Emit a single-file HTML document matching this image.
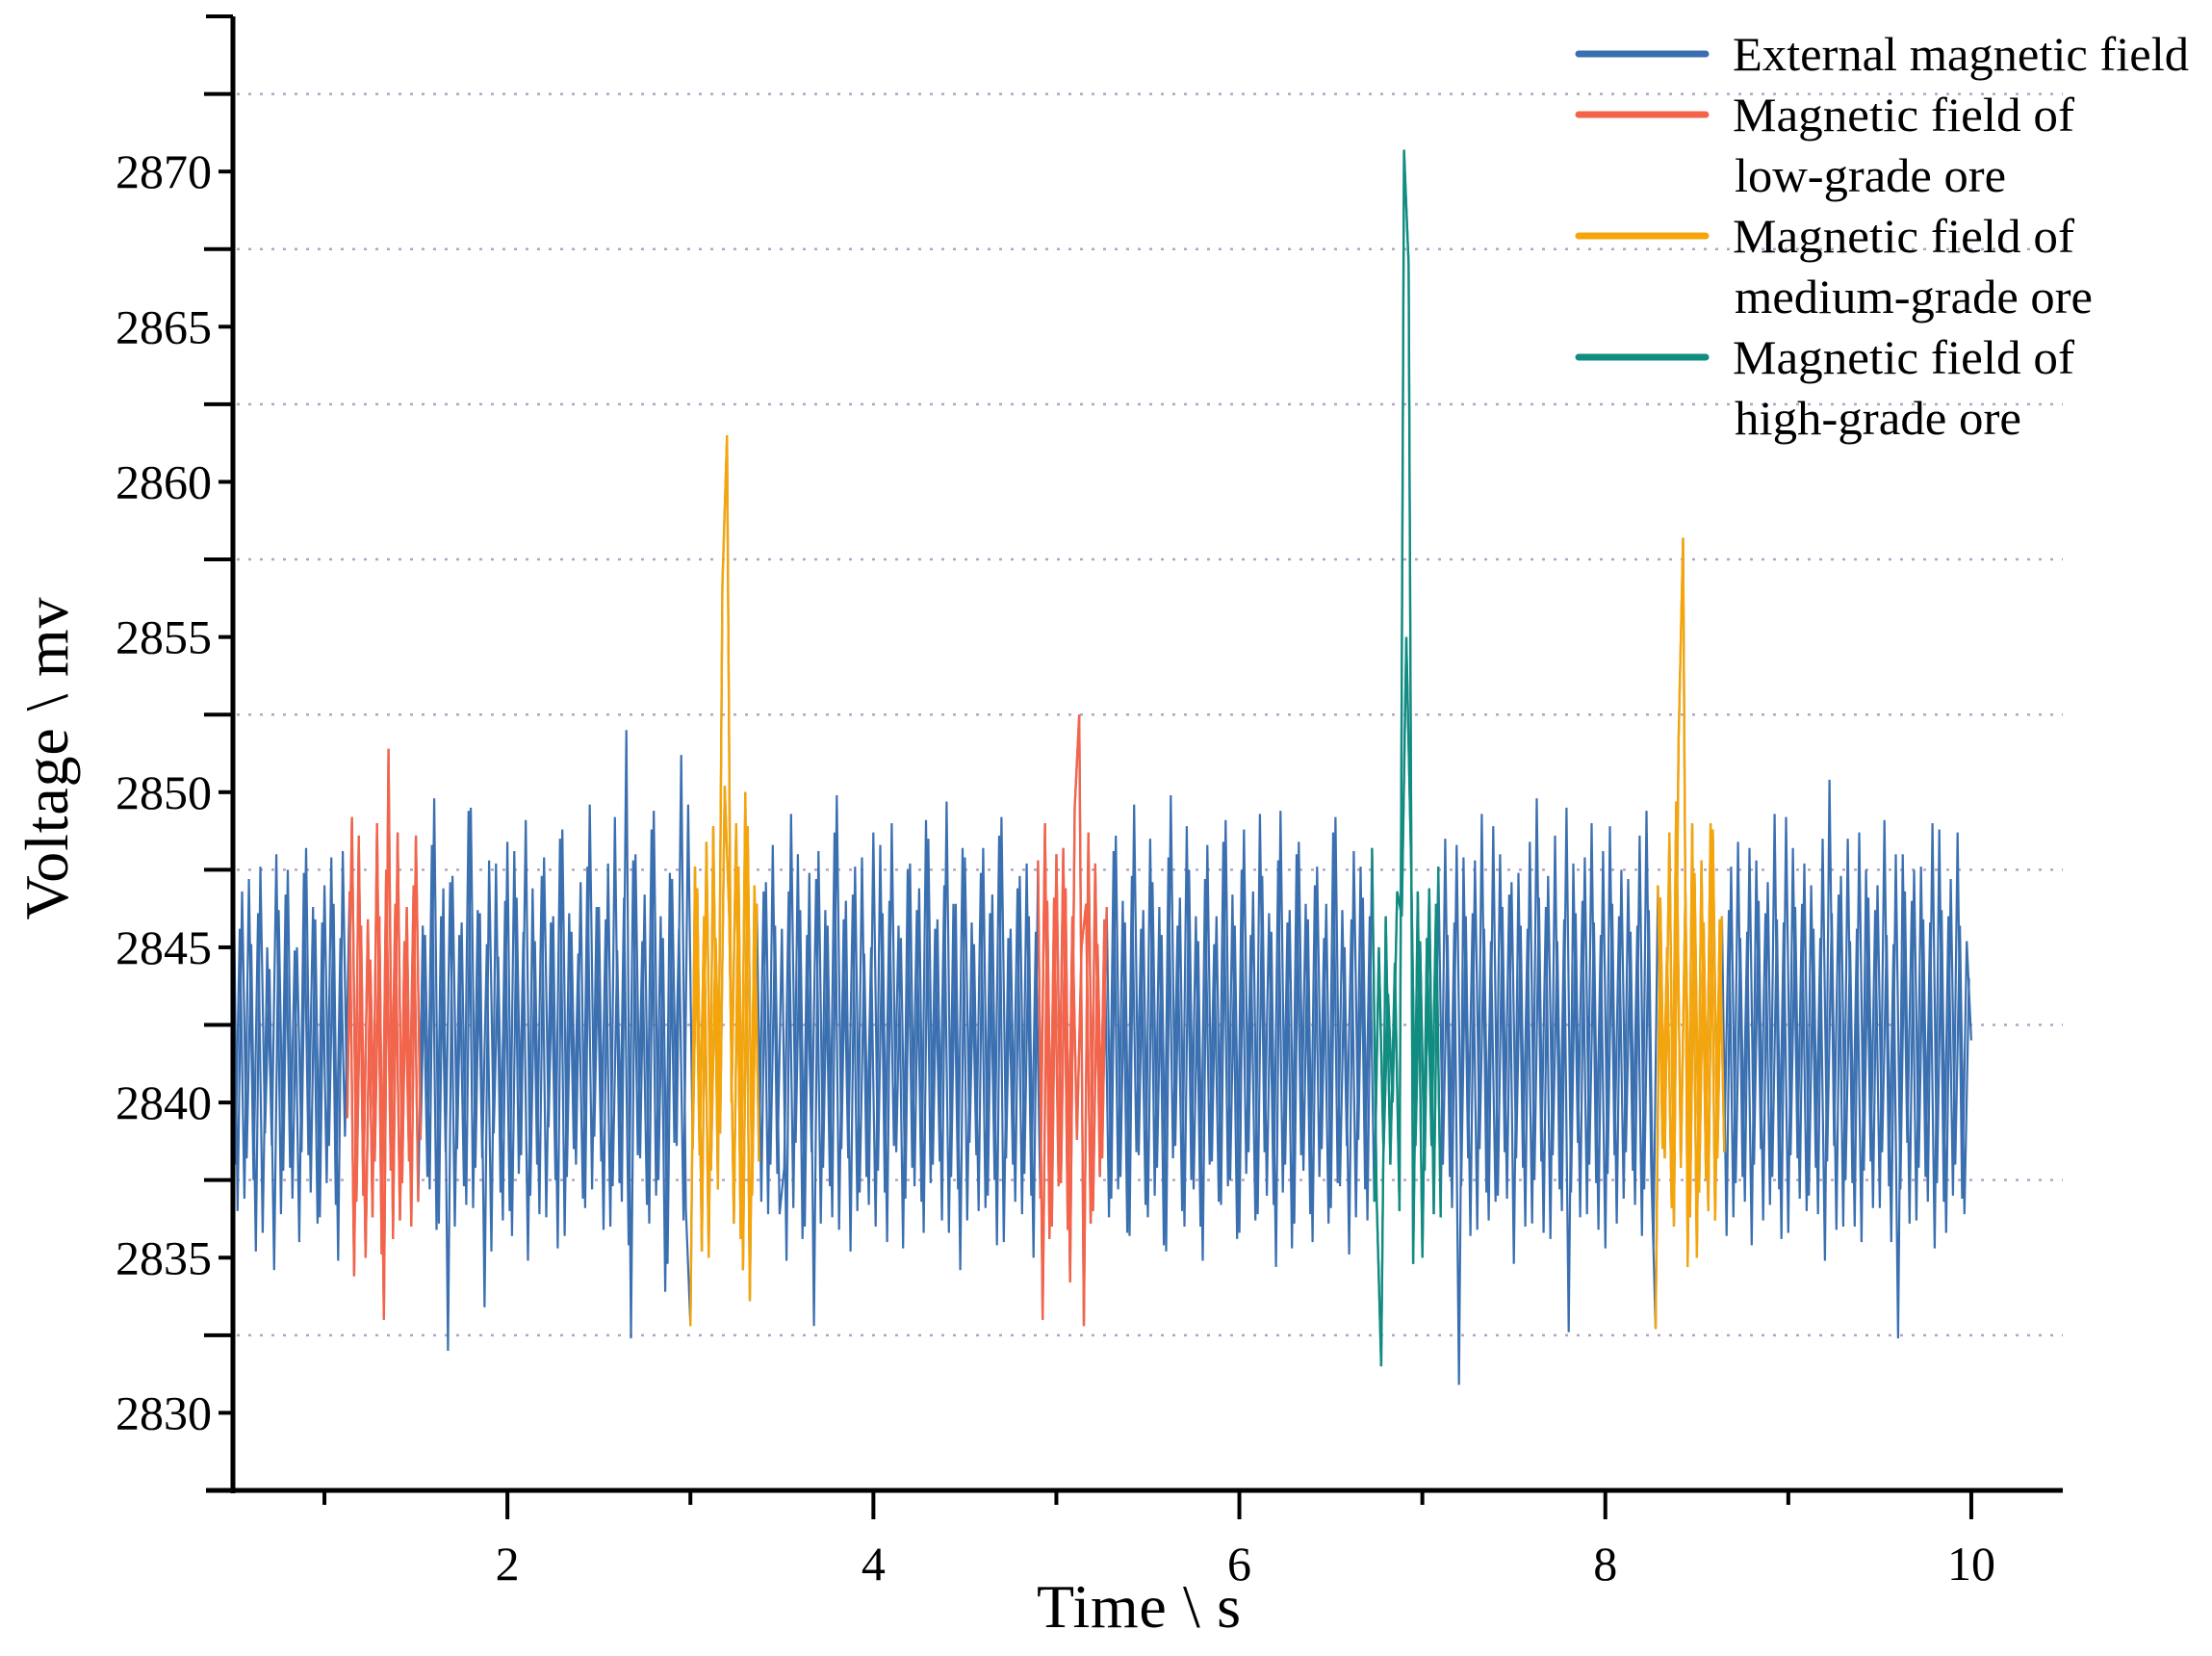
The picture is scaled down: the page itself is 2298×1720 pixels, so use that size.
<!DOCTYPE html>
<html><head><meta charset="utf-8"><style>
html,body{margin:0;padding:0;background:#fff;}
svg{display:block;font-family:"Liberation Serif",serif;}
</style></head><body>
<svg id="chart" width="2298" height="1720" viewBox="0 0 2298 1720" xmlns="http://www.w3.org/2000/svg">
<g id="grid"></g>
<g id="series"></g>
<g id="axes"></g>
<text x="1183" y="1690" font-size="64" text-anchor="middle" textLength="212">Time \ s</text>
<text transform="translate(70,788) rotate(-90)" font-size="64" text-anchor="middle" textLength="335">Voltage \ mv</text>
<g font-size="50">
  <g>
    <line x1="1640" y1="56" x2="1772" y2="56" stroke="#3a6fb0" stroke-width="7" stroke-linecap="round"/>
    <text x="1800" y="73" textLength="474" lengthAdjust="spacingAndGlyphs">External magnetic field</text>
  </g>
  <g>
    <line x1="1640" y1="119" x2="1772" y2="119" stroke="#f4644a" stroke-width="7" stroke-linecap="round"/>
    <text x="1800" y="136" textLength="355" lengthAdjust="spacingAndGlyphs">Magnetic field of</text>
    <text x="1802" y="199" textLength="282" lengthAdjust="spacingAndGlyphs">low-grade ore</text>
  </g>
  <g>
    <line x1="1640" y1="245" x2="1772" y2="245" stroke="#f5a50a" stroke-width="7" stroke-linecap="round"/>
    <text x="1800" y="262" textLength="355" lengthAdjust="spacingAndGlyphs">Magnetic field of</text>
    <text x="1802" y="325" textLength="372" lengthAdjust="spacingAndGlyphs">medium-grade ore</text>
  </g>
  <g>
    <line x1="1640" y1="371" x2="1772" y2="371" stroke="#118c80" stroke-width="7" stroke-linecap="round"/>
    <text x="1800" y="388" textLength="355" lengthAdjust="spacingAndGlyphs">Magnetic field of</text>
    <text x="1802" y="451" textLength="298" lengthAdjust="spacingAndGlyphs">high-grade ore</text>
  </g>
</g>
</svg>
<script>
const T0 = 0.5, DT = 0.025;
const values = [
2849.3,2836.5,2846.8,2838.2,2845.1,2835.2,2847.6,2839.0,2844.3,2834.6,2846.2,2837.8,2847.5,2836.9,2845.0,2838.4,2848.2,2837.1,2845.9,2836.3,
2847.0,2838.6,2846.4,2834.9,2848.1,2839.5,2849.2,2836.8,2845.7,2835.0,2844.6,2838.1,2846.0,2833.0,2851.4,2835.6,2848.7,2837.4,2846.3,2836.0,
2848.6,2838.8,2845.4,2837.2,2849.8,2836.1,2846.9,2832.0,2847.3,2838.5,2845.8,2836.7,2849.5,2837.9,2846.1,2833.4,2847.8,2839.0,2844.7,2836.2,
2848.4,2835.7,2846.6,2838.3,2849.1,2837.0,2845.2,2836.4,2847.9,2839.2,2846.0,2835.3,2848.8,2837.6,2845.5,2838.0,2847.1,2836.6,2849.6,2838.9,
2846.3,2835.9,2847.7,2837.3,2844.9,2836.8,2852.0,2832.4,2848.0,2838.2,2846.7,2836.1,2849.4,2837.5,2845.3,2834.8,2847.2,2838.6,2851.2,2836.6,
2832.8,2847.6,2838.3,2846.0,2835.0,2848.9,2837.2,2856.7,2861.5,2840.0,2849.0,2835.6,2850.0,2833.6,2847.0,2838.1,2846.8,2836.4,2848.3,2837.7,
2845.6,2834.9,2849.3,2838.7,2846.2,2836.0,2847.4,2832.8,2848.1,2837.9,2845.7,2836.3,2849.9,2838.5,2846.5,2835.2,2847.6,2837.1,2844.8,2836.7,
2848.7,2837.8,2846.1,2835.5,2849.0,2838.4,2845.3,2836.9,2847.7,2837.3,2846.9,2835.8,2848.5,2838.0,2845.9,2836.2,2849.7,2837.6,2846.4,2834.6,
2847.9,2838.7,2845.1,2836.5,2848.2,2837.0,2846.7,2835.4,2849.2,2838.2,2845.6,2836.8,2847.3,2837.7,2846.0,2835.0,2847.8,2833.0,2846.5,2836.0,
2848.0,2837.4,2846.9,2834.2,2849.5,2852.5,2832.8,2848.7,2836.5,2845.1,2838.2,2846.3,2836.9,2848.6,2837.6,2845.8,2835.7,2849.6,2838.3,2846.2,
2836.3,2847.1,2837.9,2845.4,2835.2,2849.9,2838.6,2846.6,2836.0,2847.5,2837.2,2845.2,2834.9,2848.3,2838.1,2846.0,2836.7,2849.1,2837.5,2845.7,
2835.8,2848.8,2838.4,2846.8,2836.4,2847.3,2837.0,2845.5,2834.7,2849.4,2838.0,2846.2,2836.1,2848.4,2837.8,2845.9,2835.5,2847.6,2838.5,2846.4,
2836.6,2849.2,2837.3,2845.0,2835.1,2848.1,2838.8,2846.6,2836.2,2848.2,2837.0,2831.5,2846.0,2838.0,2844.5,2836.5,2870.7,2867.0,2834.8,2846.8,
2835.0,2845.3,2838.6,2846.4,2836.3,2848.5,2837.6,2845.8,2830.9,2847.9,2838.2,2846.1,2835.9,2849.3,2837.1,2845.2,2836.8,2848.0,2838.4,2846.7,
2834.8,2847.4,2837.9,2845.6,2836.1,2849.8,2838.1,2846.3,2835.6,2848.6,2837.2,2845.9,2832.6,2847.7,2838.7,2846.5,2836.4,2849.0,2837.4,2845.4,
2835.3,2848.9,2838.3,2846.0,2836.9,2847.2,2837.8,2845.7,2835.7,2849.4,2838.0,2832.7,2846.6,2838.2,2848.7,2836.0,2851.6,2858.2,2834.7,2849.0,
2835.0,2847.8,2837.5,2849.0,2836.2,2845.9,2838.4,2846.2,2836.3,2848.4,2837.6,2845.5,2835.4,2847.8,2838.5,2846.1,2836.7,2849.3,2837.2,2845.8,
2835.8,2848.2,2838.2,2846.4,2836.5,2847.0,2837.9,2845.3,2834.9,2850.4,2838.6,2846.7,2836.0,2848.5,2837.4,2845.6,2835.5,2847.5,2838.1,2846.2,
2836.6,2849.1,2837.3,2845.1,2832.4,2848.0,2838.7,2846.5,2836.2,2847.6,2837.6,2845.8,2835.3,2848.8,2836.8,2846.0,2837.0,2848.7,2836.9,2845.2,
2842.0
];
const valuesHalfStep = [
2838.0,2845.6,2836.9,2847.2,2837.5,2846.1,2835.8,2845.0,2838.6,2848.0,2836.4,2846.7,2837.9,2844.9,2835.5,2847.4,2838.3,2846.3,2836.1,2845.8,
2837.4,2847.9,2836.7,2845.3,2838.9,2846.8,2834.4,2848.6,2837.0,2845.9,2836.3,2849.0,2835.1,2847.5,2837.8,2846.4,2836.2,2845.2,2838.1,2847.0,
2836.8,2845.7,2837.6,2848.3,2835.9,2846.0,2838.4,2847.1,2836.0,2845.4,2837.3,2849.4,2836.6,2846.2,2838.2,2845.1,2835.2,2847.7,2837.1,2846.5,
2836.5,2848.1,2837.7,2845.5,2834.9,2846.9,2838.0,2847.3,2836.3,2845.8,2837.5,2848.5,2835.7,2846.1,2838.5,2844.8,2836.9,2847.6,2837.2,2846.3,
2838.1,2845.9,2836.0,2849.2,2837.4,2846.6,2835.4,2847.8,2838.3,2845.2,2836.7,2848.8,2837.0,2846.0,2833.9,2847.4,2838.7,2845.6,2836.2,2849.6,
2838.5,2846.9,2835.2,2848.4,2837.8,2845.3,2839.0,2850.2,2846.0,2836.1,2847.6,2834.6,2848.9,2837.0,2846.4,2836.8,2847.1,2838.0,2845.7,2836.4,
2837.9,2846.8,2836.6,2848.0,2835.6,2845.4,2838.4,2847.2,2836.1,2846.2,2837.3,2848.7,2835.9,2845.9,2838.2,2846.7,2836.5,2847.9,2837.6,2845.0,
2836.0,2848.3,2837.1,2846.5,2838.6,2845.7,2835.3,2847.5,2837.9,2846.2,2836.8,2849.1,2837.4,2845.6,2838.1,2847.0,2835.8,2846.4,2837.2,2848.2,
2836.2,2845.8,2838.3,2847.4,2836.6,2846.1,2837.5,2848.6,2835.5,2845.3,2838.0,2846.9,2836.4,2847.7,2837.0,2845.5,2836.9,2849.0,2835.6,2846.6,
2837.3,2848.2,2835.9,2846.0,2838.8,2845.0,2846.4,2836.1,2847.7,2837.6,2845.9,2836.3,2848.1,2837.2,2846.5,2835.8,2847.3,2838.4,2845.6,2836.7,
2848.5,2837.0,2846.3,2835.4,2847.9,2838.2,2845.7,2836.5,2848.9,2837.5,2846.0,2836.0,2847.2,2838.0,2845.1,2836.8,2848.4,2837.3,2846.7,2835.6,
2847.5,2837.7,2845.4,2836.2,2849.3,2838.4,2846.1,2836.7,2847.8,2837.1,2845.8,2835.3,2848.0,2838.3,2846.4,2836.4,2847.0,2837.6,2845.3,2836.1,
2848.7,2837.4,2846.2,2838.6,2845.9,2836.3,2847.6,2837.2,2846.0,2836.8,2845.0,2838.4,2843.5,2840.0,2846.8,2846.0,2855.0,2848.0,2838.6,2845.2,
2837.8,2846.9,2836.4,2847.6,2838.0,2845.4,2836.6,2848.3,2837.3,2846.0,2835.7,2847.8,2838.5,2845.6,2836.2,2848.9,2837.0,2846.3,2836.9,2847.1,
2838.2,2845.7,2836.0,2848.4,2837.5,2846.6,2835.8,2847.3,2838.3,2845.2,2836.5,2849.5,2837.1,2846.1,2836.3,2847.9,2838.0,2845.8,2835.9,2848.1,
2837.7,2846.4,2836.1,2847.5,2838.4,2845.5,2836.7,2848.6,2837.2,2846.2,2835.4,2847.0,2838.5,2845.0,2836.6,2849.7,2837.9,2846.8,2836.3,2847.4,
2837.1,2845.8,2836.5,2848.8,2838.2,2846.0,2835.7,2847.6,2837.4,2845.3,2836.8,2848.2,2838.0,2846.5,2836.2,2847.1,2837.6,2845.9,2835.6,2849.2,
2838.3,2846.3,2836.9,2847.7,2837.0,2845.6,2836.4,2848.5,2838.1,2846.1,2835.9,2847.3,2837.5,2845.2,2836.0,2848.7,2837.8,2846.6,2836.6,2847.0,
2838.4,2845.4,2835.5,2848.0,2837.2,2846.8,2836.1,2847.5,2837.9,2845.9,2836.8,2849.0,2837.4,2846.2,2835.8,2847.2,2838.0,2845.7,2836.4,2844.0
];
const lowGradeRanges = [[25,41],[176,191]];
const mediumGradeRanges = [[100,115],[311,326]];
const highGradeRanges = [[249,264]];
const xTicksMajor = [2,4,6,8,10];
const xTicksMinor = [1,3,5,7,9];
const yTickLabels = [2830,2835,2840,2845,2850,2855,2860,2865,2870];
const yGrid = [2832.5,2837.5,2842.5,2847.5,2852.5,2857.5,2862.5,2867.5,2872.5];

const X0=242, X1=2143, XMIN=0.5, XMAX=10.5;
const YB=1548, YT=17, YMIN=2827.5, YMAX=2875;
function sx(t){return X0+(t-XMIN)/(XMAX-XMIN)*(X1-X0);}
function sy(v){return YB-(v-YMIN)/(YMAX-YMIN)*(YB-YT);}
const NS="http://www.w3.org/2000/svg";
function mk(tag,attrs,parent){const e=document.createElementNS(NS,tag);for(const k in attrs)e.setAttribute(k,attrs[k]);parent.appendChild(e);return e;}

const grid=document.getElementById('grid');
yGrid.forEach(v=>{
  const l=mk('line',{x1:X0+4,x2:X1,y1:sy(v),y2:sy(v),stroke:'#b3a3c8','stroke-width':2.5,'stroke-dasharray':'3 9'},grid);
  
  
});

const ser=document.getElementById('series');
function pathFor(arr,off,a,b){let d='';for(let i=a;i<=b&&i<arr.length;i++){d+=(i===a?'M':'L')+sx(T0+off+i*DT).toFixed(1)+','+sy(arr[i]).toFixed(1);}return d;}
const base=mk('path',{d:pathFor(values,0,0,values.length-1),fill:'none',stroke:'#3a6fb0','stroke-width':2.2,'stroke-linejoin':'bevel'},ser);


const base2=mk('path',{d:pathFor(valuesHalfStep,DT/2,0,valuesHalfStep.length-1),fill:'none',stroke:'#3a6fb0','stroke-width':2.2,'stroke-linejoin':'bevel'},ser);


function drawRanges(ranges,color,name){ranges.forEach(r=>{
  const p2=mk('path',{d:pathFor(valuesHalfStep,DT/2,r[0],r[1]-1),fill:'none',stroke:color,'stroke-width':2.4,'stroke-linejoin':'bevel'},ser);
  
  
  const p=mk('path',{d:pathFor(values,0,r[0],r[1]),fill:'none',stroke:color,'stroke-width':2.4,'stroke-linejoin':'bevel'},ser);
  
  
});}
drawRanges(lowGradeRanges,'#f4644a','low-grade-line');
drawRanges(mediumGradeRanges,'#f5a50a','medium-grade-line');
drawRanges(highGradeRanges,'#118c80','high-grade-line');

const ax=document.getElementById('axes');
const ya=mk('line',{x1:X0,x2:X0,y1:YT,y2:YB+3,stroke:'#000','stroke-width':5},ax);


const xa=mk('line',{x1:X0-28,x2:X1,y1:YB,y2:YB,stroke:'#000','stroke-width':5},ax);


mk('line',{x1:X0-28,x2:X0,y1:YT,y2:YT,stroke:'#000','stroke-width':4},ax);
yGrid.forEach(v=>{mk('line',{x1:X0-30,x2:X0,y1:sy(v),y2:sy(v),stroke:'#000','stroke-width':4},ax);});
yTickLabels.forEach(v=>{
  mk('line',{x1:X0-15,x2:X0,y1:sy(v),y2:sy(v),stroke:'#000','stroke-width':4},ax);
  const t=mk('text',{x:X0-22,y:sy(v)+17,'font-size':50,'text-anchor':'end',textLength:100,lengthAdjust:'spacingAndGlyphs'},ax);
  t.textContent=v;
  
  
});
xTicksMajor.forEach(v=>{
  mk('line',{x1:sx(v),x2:sx(v),y1:YB,y2:YB+30,stroke:'#000','stroke-width':4},ax);
  const t=mk('text',{x:sx(v),y:1641,'font-size':50,'text-anchor':'middle'},ax);
  t.textContent=v;
  
  
});
xTicksMinor.forEach(v=>{mk('line',{x1:sx(v),x2:sx(v),y1:YB,y2:YB+15,stroke:'#000','stroke-width':4},ax);});
</script>
</body></html>
